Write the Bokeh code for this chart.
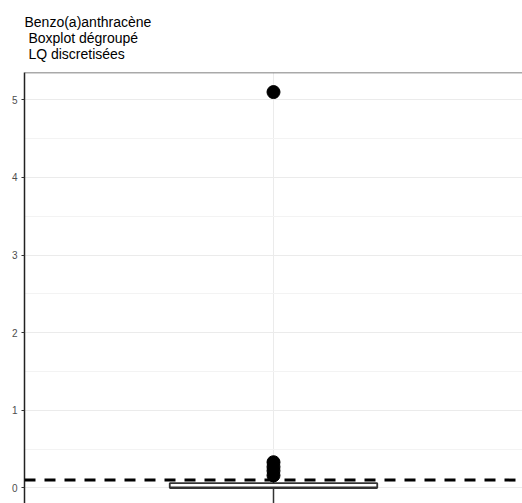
from bokeh.plotting import figure
from bokeh.models import Range1d, FixedTicker, Span
from bokeh.embed import file_html
from bokeh.resources import INLINE

# ---- data ----
title_lines = ["Benzo(a)anthracène", "\u00a0Boxplot dégroupé", "\u00a0LQ discretisées"]
group = [1.0]
box_width = 0.5
q1 = [0.0]
median = [0.0]
q3 = [0.06]
whisker_low = [-0.3]
whisker_high = [0.1]
outliers = [5.1, 0.33, 0.27, 0.22, 0.16]
lq_value = 0.1
y_ticks = [0, 1, 2, 3, 4, 5]
y_minor = [0.5, 1.5, 2.5, 3.5, 4.5]

W, H = 522, 503
left_border = 24
x_start, x_end = 0.4, 1.6
y_start, y_end = -0.202, 5.352

p = figure(width=W, height=H, output_backend="svg", toolbar_location=None,
           x_range=Range1d(x_start, x_end), y_range=Range1d(y_start, y_end),
           x_axis_location=None,
           min_border_left=left_border, min_border_right=0,
           min_border_bottom=0, min_border_top=72)

p.title.text = "\n".join(title_lines)
p.title.text_font = "Liberation Sans"
p.title.text_font_size = "14px"
p.title.text_font_style = "normal"
p.title.text_color = "black"
p.title.align = "left"
p.title.standoff = 21
p.outline_line_color = None
p.background_fill_color = "white"
p.border_fill_color = "white"

# grids
p.xgrid.ticker = FixedTicker(ticks=group)
p.xgrid.grid_line_color = "#ebebeb"
p.xgrid.grid_line_width = 1
p.ygrid.ticker = FixedTicker(ticks=y_ticks, minor_ticks=y_minor)
p.ygrid.grid_line_color = "#ebebeb"
p.ygrid.grid_line_width = 1.2
p.ygrid.minor_grid_line_color = "#f3f3f3"
p.ygrid.minor_grid_line_width = 1

# y axis
ax = p.yaxis[0]
ax.ticker = FixedTicker(ticks=y_ticks)
ax.axis_line_color = "#222222"
ax.axis_line_width = 1.5
ax.major_tick_line_color = "#333333"
ax.major_tick_out = 3
ax.major_tick_in = 0
ax.minor_tick_line_color = None
ax.major_label_standoff = 4
ax.major_label_text_font = "Liberation Sans"
ax.major_label_text_font_size = "10px"
ax.major_label_text_color = "#4d4d4d"

# top panel border
p.add_layout(Span(location=y_end, dimension="width", line_color="#555555", line_width=1.5))

# box
x0 = [g - box_width / 2 for g in group]
x1 = [g + box_width / 2 for g in group]
p.segment(x0=group, y0=q3, x1=group, y1=whisker_high, line_color="#333333", line_width=1.5)
p.segment(x0=group, y0=whisker_low, x1=group, y1=q1, line_color="#333333", line_width=1.5)
p.vbar(x=group, width=box_width, bottom=q1, top=q3, fill_color="white",
       line_color="#333333", line_width=1.8)
p.segment(x0=x0, y0=median, x1=x1, y1=median, line_color="#333333", line_width=2.5)
p.scatter(x=group * len(outliers), y=outliers, size=13, color="black")

# LQ line
p.add_layout(Span(location=lq_value, dimension="width", line_color="black",
                  line_width=3, line_dash="11 9"))

open("out.html", "w").write(file_html(p, INLINE))
